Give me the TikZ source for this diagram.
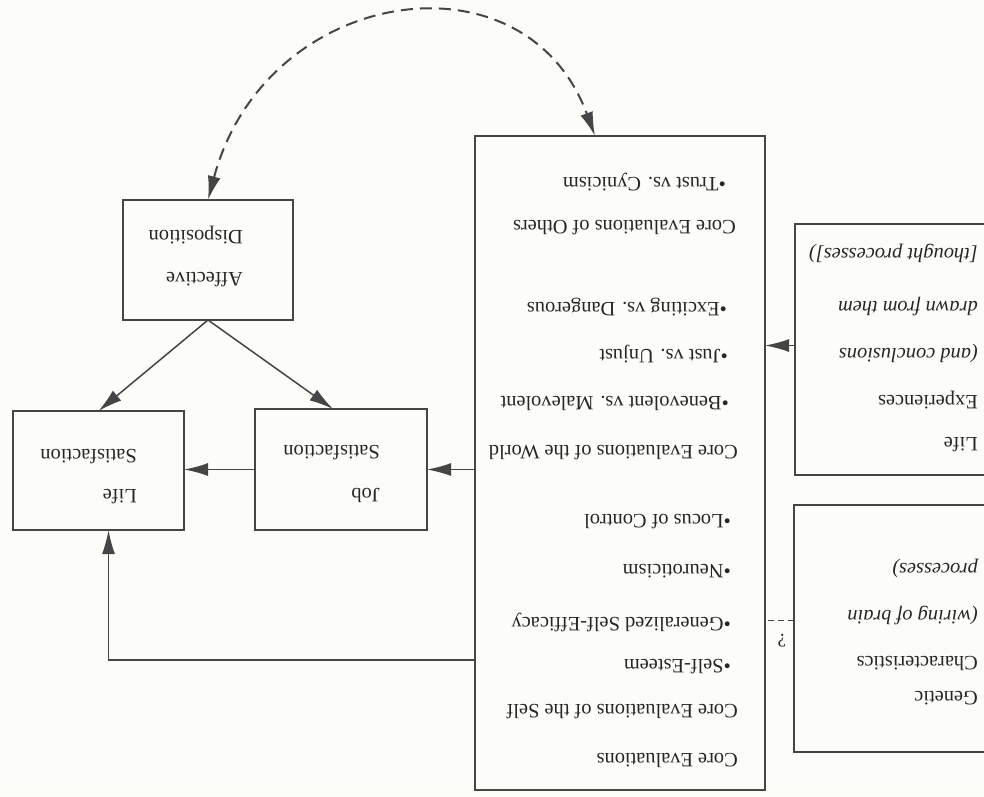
\documentclass[tikz,border=0pt]{standalone}
\usepackage{fontspec}
\setmainfont{Liberation Serif}
\usetikzlibrary{arrows.meta,calc}
\definecolor{ink}{HTML}{454545}
\definecolor{txtc}{HTML}{262626}
\definecolor{paper}{HTML}{FCFCF8}
\begin{document}
\begin{tikzpicture}[x=1pt,y=-1pt,
  box/.style={draw=ink,line width=1.5pt,inner sep=0pt,outer sep=0pt},
  arr/.style={draw=ink,line width=1.5pt,-{Latex[length=24pt,width=13pt]}},
  dasharr/.style={draw=ink,line width=2pt,dash pattern=on 12pt off 7pt,
     {Latex[length=24pt,width=13pt]}-{Latex[length=24pt,width=13pt]}},
  lbl/.style={rotate=180,anchor=west,inner sep=0pt,text=txtc,font=\fontsize{20.4}{24}\selectfont},
  ilbl/.style={lbl,font=\fontsize{20.4}{24}\selectfont\itshape}]
\path[use as bounding box,fill=paper] (0,0) rectangle (984,796);
\clip (0,0) rectangle (984,796);

% boxes
\node[box,minimum width=170pt,minimum height=120pt] (aff) at (208,260) {};
\node[box,minimum width=172pt,minimum height=121pt] (job) at (341,469.5) {};
\node[box,minimum width=171pt,minimum height=119pt] (life) at (98.5,470.5) {};
\node[box,minimum width=290pt,minimum height=654pt] (core) at (620,463) {};
\node[box,minimum width=200pt,minimum height=251pt] (exp) at (895,349.5) {};
\node[box,minimum width=201pt,minimum height=247pt] (gen) at (894.5,628.5) {};

% texts of the left boxes
\node[lbl] (t1) at (243,280) {Affective};
\node[lbl] (t2) at (243,235) {Disposition};
\node[lbl] (t3) at (380,495) {Job};
\node[lbl] (t4) at (380,453) {Satisfaction};
\node[lbl] (t5) at (137,497) {Life};
\node[lbl] (t6) at (137,457) {Satisfaction};

% central box
\node[lbl] (c1) at (738,760) {Core Evaluations};
\node[lbl] (c2) at (738,712) {Core Evaluations of the Self};
\node[lbl] (c3) at (731,667) {•Self-Esteem};
\node[lbl] (c4) at (731,622) {•Generalized Self-Efficacy};
\node[lbl] (c5) at (731,571) {•Neuroticism};
\node[lbl] (c6) at (731,522) {•Locus of Control};
\node[lbl] (c7) at (738,453) {Core Evaluations of the World};
\node[lbl] (c8) at (729,403) {•Benevolent vs. Malevolent};
\node[lbl] (c9) at (728,354) {•Just vs. Unjust};
\node[lbl] (c10) at (727,307) {•Exciting vs. Dangerous};
\node[lbl] (c11) at (736,228) {Core Evaluations of Others};
\node[lbl] (c12) at (726,182) {•Trust vs. Cynicism};

% right boxes
\node[lbl] (e1) at (978,445) {Life};
\node[lbl] (e2) at (978,400) {Experiences};
\node[ilbl] (e3) at (978,353) {(and conclusions};
\node[ilbl] (e4) at (978,307) {drawn from them};
\node[ilbl] (e5) at (978,253) {[thought processes])};
\node[lbl] (g1) at (978,698) {Genetic};
\node[lbl] (g2) at (978,663) {Characteristics};
\node[ilbl] (g3) at (978,615) {(wiring of brain};
\node[ilbl] (g4) at (978,568) {processes)};

% connectors
\draw[arr] (aff.south) -- ($(job.north)+(-8,0)$);
\draw[arr] (aff.south) -- (life.north);
\draw[arr] (job.west) -- (life.east |- job.west);
\draw[arr] (core.west |- job.west) -- (job.east);
\draw[arr] ($(exp.west)+(0,-4)$) -- ($(exp.west -| core.east)+(0,-4)$);
\coordinate (lb) at ($(life.south)+(10,0)$);
\draw[arr] (core.west |- 0,660) -| (lb);
\draw[draw=ink,line width=1.5pt,dash pattern=on 6pt off 4pt] ($(gen.west)+(0,-8)$) -- ($(gen.west -| core.east)+(0,-8)$);
\node[lbl,anchor=center,font=\fontsize{19}{21}\selectfont] (qm) at (782,641) {?};
\draw[dasharr] (aff.north) .. controls (265,-14) and (525,-54) .. ($(core.north)+(-25,0)$);
\end{tikzpicture}
\end{document}
